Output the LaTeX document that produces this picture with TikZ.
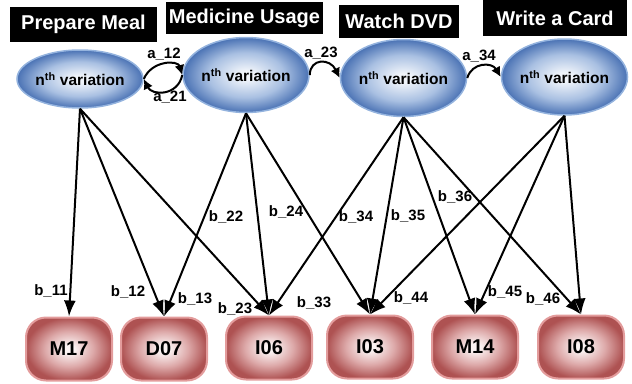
\documentclass[tikz,border=0pt]{standalone}
\usepackage{fontspec}
\setmainfont{Liberation Sans}
\usetikzlibrary{arrows.meta,shapes.geometric}
\definecolor{elin}{HTML}{F0F4FA}
\definecolor{elmid}{HTML}{A9C0E2}
\definecolor{elout}{HTML}{4A72B4}
\definecolor{elborder}{HTML}{94B3DE}
\definecolor{bxin}{HTML}{FBF3F3}
\definecolor{bxmid}{HTML}{DDA9A9}
\definecolor{bxout}{HTML}{AE5252}
\definecolor{bxborder}{HTML}{E39C9C}
\pgfdeclareradialshading{ellshade}{\pgfpoint{0bp}{0bp}}{color(0bp)=(elin); color(3bp)=(elin); color(15bp)=(elmid); color(25bp)=(elout); color(50bp)=(elout)}
\pgfdeclareradialshading{boxshade}{\pgfpoint{0bp}{0bp}}{color(0bp)=(bxin); color(3bp)=(bxin); color(14bp)=(bxmid); color(25bp)=(bxout); color(50bp)=(bxout)}
\tikzset{
  titlebox/.style={fill=black, text=white, font=\bfseries\fontsize{20}{20}\selectfont, inner sep=0pt, align=center},
  state/.style={ellipse, shade, shading=ellshade, draw=elborder, line width=1.5pt, inner sep=0pt, font=\bfseries\fontsize{15.5}{15.5}\selectfont},
  obs/.style={rectangle, rounded corners=20pt, shade, shading=boxshade, draw=bxborder, line width=2pt, minimum width=86pt, minimum height=63pt, inner sep=0pt, font=\bfseries\fontsize{20}{20}\selectfont},
  emit/.style={line width=2pt, -{Latex[length=16pt,width=12pt]}},
  trans/.style={line width=2pt, -{Latex[length=10pt,width=10pt]}},
  lbl/.style={font=\bfseries\fontsize{15}{15}\selectfont, inner sep=0pt}
}
\begin{document}
\begin{tikzpicture}[x=1pt,y=-1pt]
\useasboundingbox (0,0) rectangle (632,383);
% titles
\node[titlebox, minimum width=147pt, minimum height=35pt] (t1) at (83.5,24.5) {Prepare Meal};
\node[titlebox, minimum width=157pt, minimum height=32pt] (t2) at (244.5,18) {Medicine Usage};
\node[titlebox, minimum width=120pt, minimum height=33pt] (t3) at (399,21.5) {Watch DVD};
\node[titlebox, minimum width=144pt, minimum height=36pt] (t4) at (555,18) {Write a Card};
% states
\node[state, minimum width=123pt, minimum height=58pt] (E1) at (80,79) {n\textsuperscript{th} variation};
\node[state, minimum width=112pt, minimum height=75pt] (E2) at (246,75) {n\textsuperscript{th} variation};
\node[state, minimum width=121pt, minimum height=77pt] (E3) at (403.5,78) {n\textsuperscript{th} variation};
\node[state, minimum width=121pt, minimum height=76pt] (E4) at (564.5,77) {n\textsuperscript{th} variation};
% observations
\node[obs] (M17) at (69,349) {M17};
\node[obs] (D07) at (164,349) {D07};
\node[obs] (I06) at (269,348) {I06};
\node[obs] (I03) at (370,347) {I03};
\node[obs] (M14) at (475,347) {M14};
\node[obs] (I08) at (581,347) {I08};
% transitions
\draw[trans] (E1.east) .. controls (152,60) and (178,60) .. (E2.west);
\draw[trans] (E2.west) .. controls (178,96) and (152,96) .. (E1.east);
\draw[trans] (E2.east) .. controls (310,58) and (330,58) .. (E3.west);
\draw[trans] (E3.east) .. controls (472,62) and (492,62) .. (E4.west);
\node[lbl] (a12) at (164,54) {a\_12};
\node[lbl] (a21) at (170,97) {a\_21};
\node[lbl] (a23) at (321,53) {a\_23};
\node[lbl] (a34) at (479,56) {a\_34};
% emissions
\draw[emit] (E1.south) -- (M17.north);
\draw[emit] (E1.south) -- (D07.north);
\draw[emit] (E1.south) -- (I06.north);
\draw[emit] (E2.south) -- (D07.north);
\draw[emit] (E2.south) -- (I06.north);
\draw[emit] (E2.south) -- (I03.north);
\draw[emit] (E3.south) -- (I06.north);
\draw[emit] (E3.south) -- (I03.north);
\draw[emit] (E3.south) -- (M14.north);
\draw[emit] (E3.south) -- (I08.north);
\draw[emit] (E4.south) -- (I03.north);
\draw[emit] (E4.south) -- (M14.north);
\draw[emit] (E4.south) -- (I08.north);
% emission labels
\node[lbl] (b11) at (51,291) {b\_11};
\node[lbl] (b12) at (128,292) {b\_12};
\node[lbl] (b13) at (195,299) {b\_13};
\node[lbl] (b22) at (226,217) {b\_22};
\node[lbl] (b24) at (286,212) {b\_24};
\node[lbl] (b23) at (235,309) {b\_23};
\node[lbl] (b33) at (314,303) {b\_33};
\node[lbl] (b34) at (356,217) {b\_34};
\node[lbl] (b35) at (408,216) {b\_35};
\node[lbl] (b36) at (455,197) {b\_36};
\node[lbl] (b44) at (411,298) {b\_44};
\node[lbl] (b45) at (505,292) {b\_45};
\node[lbl] (b46) at (543,299) {b\_46};
\end{tikzpicture}
\end{document}
